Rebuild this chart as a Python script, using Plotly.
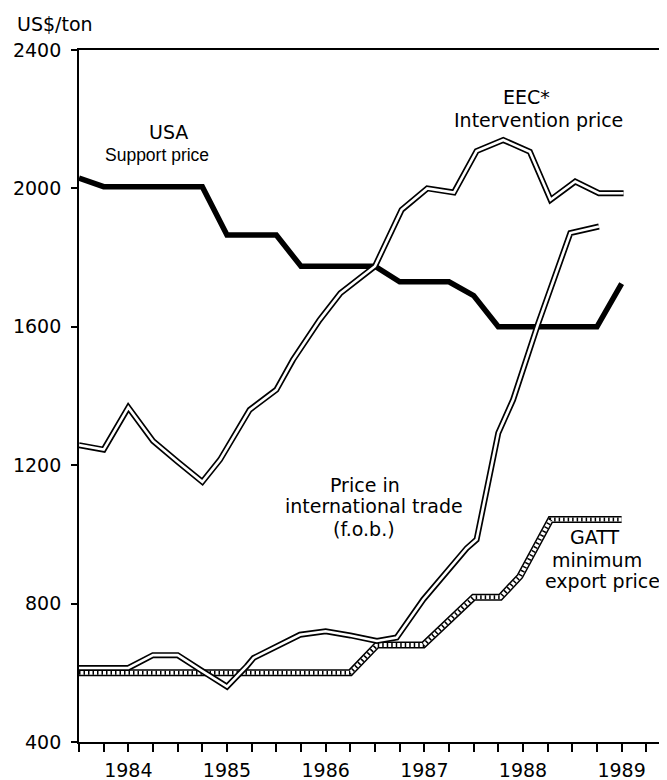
import plotly.graph_objects as go

# ---- data ----
years = [1984, 1985, 1986, 1987, 1988, 1989]
y_ticks = [400, 800, 1200, 1600, 2000, 2400]

usa_x = [1984.0, 1984.25, 1985.25, 1985.5, 1986.0, 1986.25, 1987.0, 1987.25,
         1987.75, 1988.0, 1988.25, 1989.25, 1989.5]
usa_y = [2030, 2005, 2005, 1865, 1865, 1775, 1775, 1730, 1730, 1690, 1600, 1600, 1725]

eec_x = [1984.0, 1984.25, 1984.5, 1984.75, 1985.0, 1985.25, 1985.43, 1985.73, 1986.0,
         1986.17, 1986.44, 1986.65, 1987.0, 1987.27, 1987.53, 1987.8, 1988.03, 1988.3,
         1988.57, 1988.78, 1989.03, 1989.27, 1989.52]
eec_y = [1258, 1245, 1367, 1270, 1210, 1152, 1216, 1360, 1418,
         1505, 1620, 1697, 1775, 1938, 2000, 1988, 2108, 2140,
         2106, 1967, 2020, 1986, 1986]

trade_x = [1984.0, 1984.5, 1984.75, 1985.0, 1985.25, 1985.5, 1985.7, 1985.77, 1986.24,
           1986.5, 1986.75, 1987.02, 1987.22, 1987.49, 1987.93, 1988.03, 1988.25, 1988.4,
           1988.65, 1988.98, 1989.27]
trade_y = [614, 614, 651, 651, 605, 560, 619, 643, 710,
           720, 708, 692, 702, 812, 960, 985, 1293, 1389,
           1606, 1871, 1890]

gatt_x = [1984.0, 1986.75, 1987.02, 1987.49, 1988.0, 1988.27, 1988.47, 1988.78, 1989.5]
gatt_y = [600, 600, 680, 680, 818, 818, 879, 1043, 1043]

fig = go.Figure()

# USA support price: heavy black line
fig.add_trace(go.Scatter(x=usa_x, y=usa_y, mode="lines",
                         line=dict(color="black", width=5.5), hoverinfo="skip"))

# GATT minimum export price: hatched band
fig.add_trace(go.Scatter(x=gatt_x, y=gatt_y, mode="lines",
                         line=dict(color="black", width=7), hoverinfo="skip"))
fig.add_trace(go.Scatter(x=gatt_x, y=gatt_y, mode="lines",
                         line=dict(color="white", width=4), hoverinfo="skip"))
fig.add_trace(go.Scatter(x=gatt_x, y=gatt_y, mode="lines",
                         line=dict(color="black", width=4, dash="1.5px,3px"), hoverinfo="skip"))

# double (outlined) lines
for xs, ys in [(trade_x, trade_y), (eec_x, eec_y)]:
    fig.add_trace(go.Scatter(x=xs, y=ys, mode="lines",
                             line=dict(color="black", width=6), hoverinfo="skip"))
    fig.add_trace(go.Scatter(x=xs, y=ys, mode="lines",
                             line=dict(color="white", width=2.6), hoverinfo="skip"))

# ticks
q_vals = [1984 + 0.25 * i for i in range(24)]
q_text = [str(int(v)) if abs(v - int(v) - 0.5) < 1e-9 and int(v) in years else "" for v in q_vals]

FONT = "DejaVu Sans"
NARROW = "Liberation Sans"
lab = dict(family=FONT, size=19, color="black")

labels = [
    ("USA", 1984.91, 2162, 19, FONT),
    ("Support price", 1984.79, 2097, 17.5, NARROW),
    ("EEC*", 1988.54, 2264, 19, FONT),
    ("Intervention price", 1988.66, 2198, 19, FONT),
    ("Price in", 1986.90, 1143, 19, FONT),
    ("international trade", 1986.99, 1081, 19, FONT),
    ("(f.o.b.)", 1986.89, 1017, 19, FONT),
    ("GATT", 1989.23, 993, 19, FONT),
    ("minimum", 1989.25, 927, 19, FONT),
    ("export price", 1989.31, 864, 19, FONT),
]
for t, x, y, s, f in labels:
    fig.add_annotation(x=x, y=y, xref="x", yref="y", text=t, showarrow=False,
                       font=dict(family=f, size=s, color="black"),
                       xanchor="center", yanchor="middle")

# page has an 8px body margin: size the figure so the plot lands where the reference has it
W, H = 659, 772
L, R, T, B = 71, 0, 42, 38
pw, ph = W - L - R, H - T - B

fig.add_annotation(x=(7 - L) / pw, y=(H - B - 16) / ph, xref="paper", yref="paper",
                   text="US$/ton", showarrow=False, font=lab,
                   xanchor="left", yanchor="middle")

fig.update_layout(
    width=W, height=H,
    margin=dict(l=L, r=R, t=T, b=B, pad=0),
    plot_bgcolor="white", paper_bgcolor="white",
    showlegend=False,
    font=dict(family=FONT, color="black"),
    xaxis=dict(range=[1984, 1989.96], tickvals=q_vals, ticktext=q_text,
               showline=True, linecolor="black", linewidth=1.5, mirror=True,
               ticks="outside", ticklen=8, tickwidth=1.5, tickcolor="black",
               ticklabelstandoff=2,
               showgrid=False, zeroline=False,
               tickfont=dict(family=FONT, size=19, color="black")),
    yaxis=dict(range=[400, 2400], tickvals=y_ticks,
               showline=True, linecolor="black", linewidth=1.8,
               ticks="outside", ticklen=6, tickwidth=1.5, tickcolor="black",
               ticklabelstandoff=6,
               showgrid=False, zeroline=False,
               tickfont=dict(family=FONT, size=19, color="black")),
)

fig.write_html("out.html")
